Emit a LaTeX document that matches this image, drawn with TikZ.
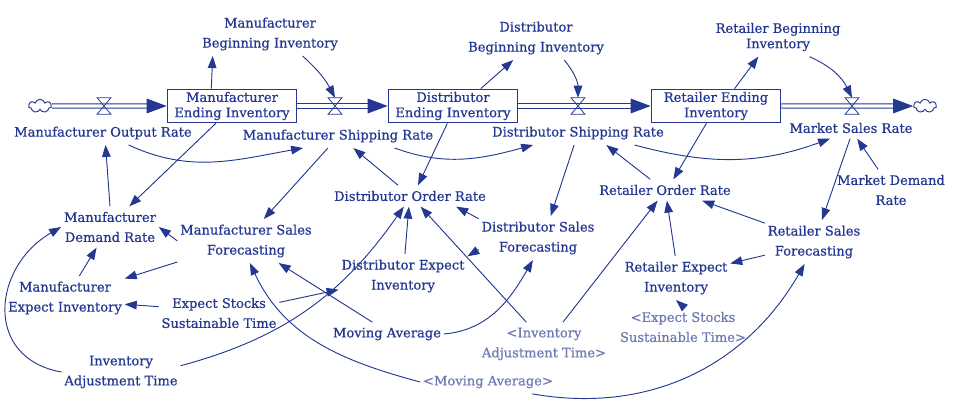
\documentclass[tikz,border=0pt]{standalone}
\usepackage{fontspec}
\setmainfont{DejaVu Serif}[FakeBold=0.7]
\usepackage{tikz}
\usetikzlibrary{arrows.meta,shapes.symbols,positioning}
\definecolor{vblue}{RGB}{36,56,146}
\definecolor{vgray}{RGB}{112,122,180}
\newcommand{\varfont}{\fontsize{9.8}{15}\selectfont}
\newcommand{\stockfont}{\fontsize{9.8}{11.5}\selectfont}

\begin{document}
\begin{tikzpicture}[x=0.75pt, y=0.75pt,
    var/.style={text=vblue, align=center, font=\varfont, inner xsep=2pt, inner ysep=4pt},
    shadow/.style={var, text=vgray},
    stock/.style={draw=vblue, line width=1pt, text=vblue, align=center, font=\stockfont,
        minimum width=97pt, minimum height=25pt, inner sep=1pt},
    valve/.style={minimum width=10pt, minimum height=12pt, inner sep=0pt},
    sink/.style={cloud, cloud puffs=7, aspect=1.7, draw=vblue, line width=0.7pt, fill=white,
        minimum width=17pt, minimum height=10pt, inner sep=0pt},
    pipe/.style={draw=vblue, line width=0.8pt, double=white, double distance=2.4pt,
        -{Triangle[length=15pt,width=11pt]}},
    link/.style={draw=vblue, line width=0.7pt, -{Triangle[length=9pt,width=6.5pt]}},
]
    \useasboundingbox (0,0) rectangle (960,-404);

    % 库存与流
    \node[stock] (mfEnd) at (232,-106) {Manufacturer\\Ending Inventory};
    \node[stock] (dbEnd) at (453,-106) {Distributor\\Ending Inventory};
    \node[stock] (rtEnd) at (716,-106) {Retailer Ending\\Inventory};
    \node[sink] (srcL) at (40,-106) {};
    \node[sink] (snkR) at (925,-106) {};
    \node[valve] (v1) at (104,-106) {};
    \node[valve] (v2) at (335,-106) {};
    \node[valve] (v3) at (578,-106) {};
    \node[valve] (v4) at (852,-106) {};

    \draw[pipe] (srcL.east) -- (mfEnd.west);
    \draw[pipe] (mfEnd.east) -- (dbEnd.west);
    \draw[pipe] (dbEnd.east) -- (rtEnd.west);
    \draw[pipe] (rtEnd.east) -- (snkR.west);

    \draw[vblue, line width=0.6pt] (v1.north west) -- (v1.north east) -- (v1.south west) -- (v1.south east) -- cycle;
    \draw[vblue, line width=0.6pt] (v2.north west) -- (v2.north east) -- (v2.south west) -- (v2.south east) -- cycle;
    \draw[vblue, line width=0.6pt] (v3.north west) -- (v3.north east) -- (v3.south west) -- (v3.south east) -- cycle;
    \draw[vblue, line width=0.6pt] (v4.north west) -- (v4.north east) -- (v4.south west) -- (v4.south east) -- cycle;

    % 变量
    \node[var] (mfOut) at (103,-133) {Manufacturer Output Rate};
    \node[var] (mfBeg) at (270,-34) {Manufacturer\\Beginning Inventory};
    \node[var] (mfShip) at (338,-136) {Manufacturer Shipping Rate};
    \node[var] (dbBeg) at (536,-38) {Distributor\\Beginning Inventory};
    \node[var] (dbShip) at (578,-133) {Distributor Shipping Rate};
    \node[var, font=\stockfont] (rtBeg) at (778,-37) {Retailer Beginning\\Inventory};
    \node[var] (mkSale) at (851,-128) {Market Sales Rate};
    \node[var] (mkDem) at (891,-190) {Market Demand\\Rate};

    \node[var] (mfDem) at (110,-227) {Manufacturer\\Demand Rate};
    \node[var] (mfFc) at (246,-241) {Manufacturer Sales\\Forecasting};
    \node[var] (mfExp) at (65,-298) {Manufacturer\\Expect Inventory};
    \node[var] (expSt) at (219,-313) {Expect Stocks\\Sustainable Time};
    \node[var] (invAdj) at (121,-372) {Inventory\\Adjustment Time};

    \node[var] (dbOrd) at (410,-196) {Distributor Order Rate};
    \node[var] (dbFc) at (538,-238) {Distributor Sales\\Forecasting};
    \node[var] (dbExp) at (403,-276) {Distributor Expect\\Inventory};
    \node[var] (movAvg) at (387,-334) {Moving Average};
    \node[shadow] (invAdjS) at (544,-344) {<Inventory\\Adjustment Time>};
    \node[shadow] (movAvgS) at (488,-382) {<Moving Average>};

    \node[var] (rtOrd) at (665,-190) {Retailer Order Rate};
    \node[var] (rtFc) at (814,-242) {Retailer Sales\\Forecasting};
    \node[var] (rtExp) at (676,-278) {Retailer Expect\\Inventory};
    \node[shadow] (expStS) at (683,-327) {<Expect Stocks\\Sustainable Time>};

    % 因果连线
    \draw[link] (mfEnd.140) -- (mfBeg.201);
    \draw[link] (mfBeg.326) to[bend left=10] (v2.north);
    \draw[link] (dbEnd.32) -- (dbBeg.224);
    \draw[link] (dbBeg.322) to[bend left=20] (v3.north);
    \draw[link] (rtEnd.43) -- (rtBeg.225);
    \draw[link] (rtBeg.328) to[bend left=20] (v4.north);

    \draw[link] (mfEnd.227) -- (mfDem.47);
    \draw[link] (mfDem.north) -- (mfOut.282);
    \draw[link] (mfOut.335) to[out=-25, in=190] (mfShip.199);
    \draw[link] (mfShip.230) -- (mfFc.51);
    \draw[link] (dbOrd.138) -- (mfShip.322);
    \draw[link] (dbEnd.252) -- (dbOrd.53);
    \draw[link] (mfShip.348) to[out=-20, in=195] (dbShip.195);
    \draw[link] (dbShip.252) -- (dbFc.60);
    \draw[link] (rtOrd.144) -- (dbShip.337);
    \draw[link] (rtEnd.241) -- (rtOrd.52);
    \draw[link] (dbShip.348) to[out=-15, in=200] (mkSale.207);
    \draw[link] (mkSale.265) -- (rtFc.70);
    \draw[link] (mkDem.122) -- (mkSale.300);

    \draw[link] (rtFc.159) -- (rtOrd.344);
    \draw[link] (rtFc.195) -- (rtExp.15);
    \draw[link] (rtExp.92) -- (rtOrd.280);
    \draw[link] (expStS.north) -- (rtExp.south);
    \draw[link] (invAdjS.49) -- (rtOrd.235);
    \draw[link] (invAdjS.129) -- (dbOrd.315);

    \draw[link] (dbFc.162) -- (dbOrd.347);
    \draw[link] (dbFc.191) -- (dbExp.17);
    \draw[link] (dbExp.85) -- (dbOrd.264);
    \draw[link] (movAvg.east) to[out=5, in=240] (dbFc.257);
    \draw[link] (movAvg.141) -- (mfFc.326);
    \draw[link] (expSt.174) -- (mfExp.354);
    \draw[link] (expSt.10) -- (dbExp.192);
    \draw[link] (invAdj.6) to[out=15, in=235] (dbOrd.240);
    \draw[link] (invAdj.west) to[out=170, in=210, looseness=1.4] (mfDem.west);

    \draw[link] (mfExp.57) -- (mfDem.237);
    \draw[link] (mfFc.west) -- (mfDem.east);
    \draw[link] (mfFc.197) -- (mfExp.18);
    \draw[link] (movAvgS.west) to[out=165, in=295] (mfFc.280);
    \draw[link] (movAvgS.345) to[out=-10, in=240] (rtFc.247);
\end{tikzpicture}
\end{document}
